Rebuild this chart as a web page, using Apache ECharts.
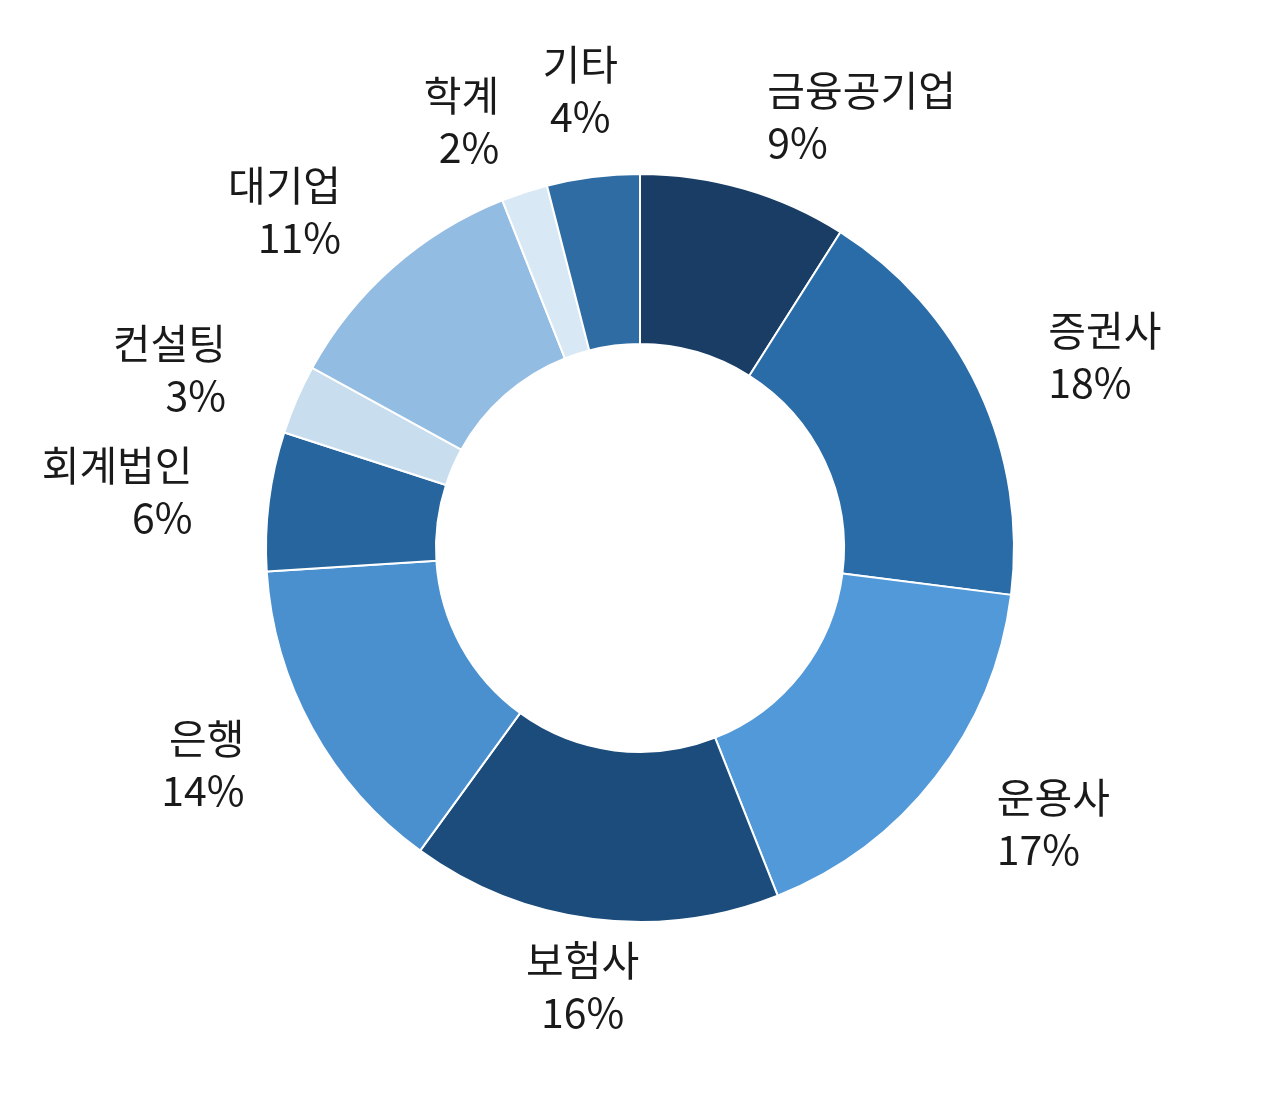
<!DOCTYPE html>
<html>
<head>
<meta charset="utf-8">
<script src="https://cdn.jsdelivr.net/npm/echarts@6/dist/echarts.min.js"></script>
<style>
html,body{margin:0;padding:0;background:#fff;}
#chart{width:1280px;height:1097px;}
</style>
</head>
<body>
<div id="chart"></div>
<script>
const categories = ['금융공기업','증권사','운용사','보험사','은행','회계법인','컨설팅','대기업','학계','기타'];
const values = [9, 18, 17, 16, 14, 6, 3, 11, 2, 4];
const colors = ['#1a3d66','#2a6ca8','#5299d9','#1b4c7b','#4a90cf','#26659d','#c8ddee','#92bce2','#d8e8f5','#2e6ca3'];
const centeredLabels = ['보험사','기타'];
const labelLineLengths = {'기타':87, '보험사':68};

const chart = echarts.init(document.getElementById('chart'), null, {renderer:'canvas'});
chart.setOption({
  backgroundColor:'#ffffff',
  animation:false,
  series:[{
    type:'pie',
    center:[640,548],
    radius:[204,374],
    startAngle:90,
    clockwise:true,
    avoidLabelOverlap:false,
    itemStyle:{borderColor:'#ffffff',borderWidth:2},
    label:{
      show:true,
      position:'outside',
      formatter:'{b}\n{c}%',
      fontFamily:'"Noto Sans CJK KR", "Noto Sans", sans-serif',
      fontSize:41,
      lineHeight:52,
      color:'#1a1a1a',
      distanceToLabelLine:2
    },
    labelLine:{show:false,length:75,length2:0},
    labelLayout:function(p){
      const name = categories[p.dataIndex];
      if (centeredLabels.indexOf(name) >= 0) return {align:'center'};
      return {};
    },
    emphasis:{disabled:true},
    data:categories.map((c,i)=>{
      const item = {name:c,value:values[i],itemStyle:{color:colors[i]}};
      if (labelLineLengths[c] != null) item.labelLine = {show:false,length:labelLineLengths[c],length2:0};
      return item;
    })
  }]
});
</script>
</body>
</html>
